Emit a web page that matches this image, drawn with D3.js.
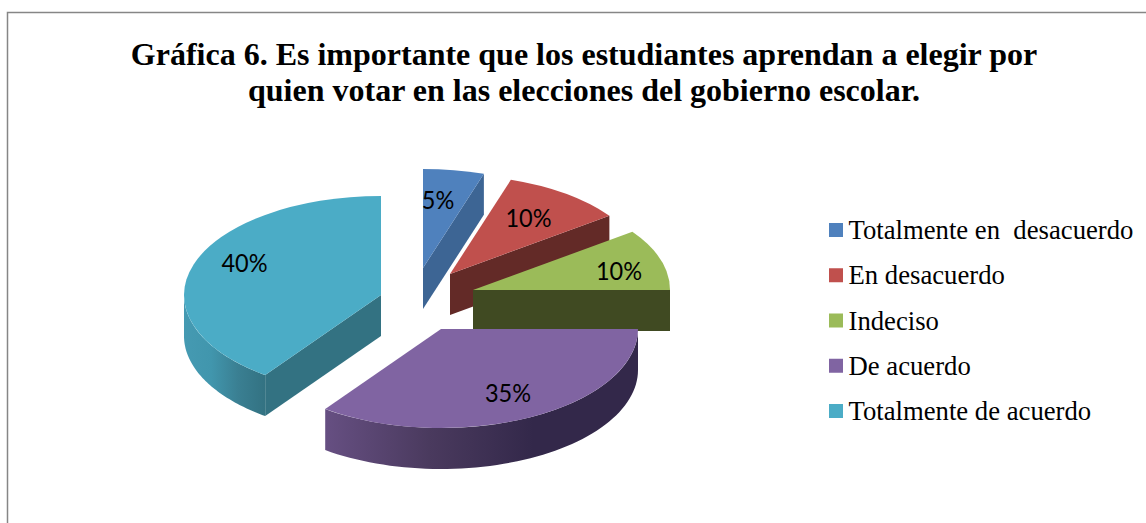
<!DOCTYPE html>
<meta charset="utf-8">
<style>
html, body { margin: 0; padding: 0; background: #fff; }
svg { display: block; }
.title { font-family: "Liberation Serif"; font-weight: bold; font-size: 32px; text-anchor: middle; }
.legend text { font-family: "Liberation Serif"; font-size: 26.7px; white-space: pre; }
.pct { font-family: Lato; font-size: 25px; text-anchor: middle; }
</style>
<body>
<script src="https://cdn.jsdelivr.net/npm/d3@7"></script>
<script>

var categories = ["Totalmente en  desacuerdo", "En desacuerdo", "Indeciso", "De acuerdo", "Totalmente de acuerdo"];
var values = [5, 10, 10, 35, 40];
var titleLines = [
  "Gráfica 6. Es importante que los estudiantes aprendan a elegir por",
  "quien votar en las elecciones del gobierno escolar."
];

var colors = ["#4f81bd", "#c0504d", "#9bbb59", "#8064a2", "#4bacc6"];
var faceColors = ["#3d6594", "#632a27", "#404a22", "#33284a", "#337282"];
// outer wall gradient, left to right
var wallColors = [null, null, null, ["#664f82", "#4a3a5e", "#33284a", "#33284a"], ["#459ab2", "#4196ad", "#3a7f92", "#337282"]];

var width = 1146,
    height = 523;

// 3d look of the pie
var rx = 197, ry = 99, depth = 41;
// exploded apex of each slice
var apexes = [[423, 268], [450, 274], [473, 290], [441, 329], [381, 295]];
// label centre relative to the apex
var labelOffsets = [[15, -68], [78.5, -56], [146, -19], [67, 63.5], [-136.5, -32]];

var pie = d3.pie().sort(null)(values);
var arc = d3.arc().innerRadius(0).outerRadius(rx);
var squash = ry / rx;

var svg = d3.select("body").append("svg")
    .attr("width", width)
    .attr("height", height);

var defs = svg.append("defs");

svg.append("path")
    .attr("d", "M7.5," + height + "V12.5H" + width)
    .attr("fill", "none")
    .attr("stroke", "#868686")
    .attr("stroke-width", 1.5);

svg.selectAll(".title")
    .data(titleLines)
  .enter().append("text")
    .attr("class", "title")
    .attr("x", 584)
    .attr("y", function(d, i) { return 65 + i * 36; })
    .text(function(d) { return d; });

function px(a) { return rx * Math.sin(a); }
function py(a) { return -ry * Math.cos(a); }

var wallLine = d3.line();

var slices = svg.selectAll(".slice")
    .data(pie)
  .enter().append("g")
    .attr("class", "slice")
    .attr("transform", function(d, i) { return "translate(" + apexes[i] + ")"; });

// cut faces that look at the viewer
slices.each(function(d, i) {
  var g = d3.select(this);
  [d.startAngle, d.endAngle].forEach(function(a, k) {
    var s = Math.sin(a) * (k === 0 ? -1 : 1);
    if (s > 1e-6) {
      g.append("path")
        .attr("d", wallLine([[0, 0], [px(a), py(a)], [px(a), py(a) + depth], [0, depth]]) + "Z")
        .attr("fill", faceColors[i]);
    }
  });

  // outer wall, only the front half of the ellipse shows
  var a0 = Math.max(d.startAngle, Math.PI / 2),
      a1 = Math.min(d.endAngle, 3 * Math.PI / 2);
  if (a1 > a0 && wallColors[i]) {
    var top = d3.range(61).map(function(k) {
      var a = a0 + (a1 - a0) * k / 60;
      return [px(a), py(a)];
    });
    var bottom = top.map(function(p) { return [p[0], p[1] + depth]; }).reverse();
    var xs = d3.extent(top, function(p) { return p[0]; });
    var grad = defs.append("linearGradient")
        .attr("id", "wall" + i)
        .attr("gradientUnits", "userSpaceOnUse")
        .attr("x1", xs[0]).attr("x2", xs[1])
        .attr("y1", 0).attr("y2", 0);
    grad.selectAll("stop")
        .data(wallColors[i])
      .enter().append("stop")
        .attr("offset", function(c, k) { return k / (wallColors[i].length - 1); })
        .attr("stop-color", function(c) { return c; });
    g.append("path")
      .attr("d", wallLine(top.concat(bottom)) + "Z")
      .attr("fill", "url(#wall" + i + ")");
  }

  // top of the slice
  g.append("path")
    .attr("transform", "scale(1," + squash + ")")
    .attr("d", arc(d))
    .attr("fill", colors[i]);
});

svg.selectAll(".pct")
    .data(pie)
  .enter().append("text")
    .attr("class", "pct")
    .attr("x", function(d, i) { return apexes[i][0] + labelOffsets[i][0]; })
    .attr("y", function(d, i) { return apexes[i][1] + labelOffsets[i][1]; })
    .attr("dy", "0.36em")
    .text(function(d) { return d.value + "%"; })
    // Lato runs wider than the chart's font, squeeze it a bit
    .attr("lengthAdjust", "spacingAndGlyphs")
    .attr("textLength", function() { return this.getComputedTextLength() * 0.94; });

var legendY = d3.scalePoint()
    .domain(categories)
    .range([230, 411]);

var legend = svg.append("g")
    .attr("class", "legend")
    .selectAll("g")
    .data(categories)
  .enter().append("g")
    .attr("transform", function(d) { return "translate(829," + legendY(d) + ")"; });

legend.append("rect")
    .attr("y", -7)
    .attr("width", 14)
    .attr("height", 14)
    .attr("fill", function(d, i) { return colors[i]; });

legend.append("text")
    .attr("x", 19.5)
    .attr("y", 9)
    .text(function(d) { return d; });

</script>
</body>
